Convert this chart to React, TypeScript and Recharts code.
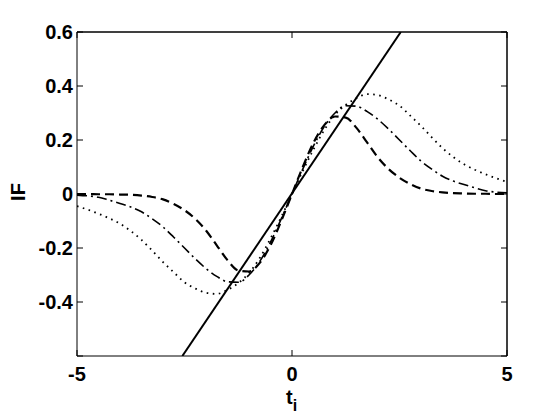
import { LineChart, Line, XAxis, YAxis, Label, ReferenceLine } from "recharts"

const tValues = [
  -5, -4.75, -4.5, -4.25, -4, -3.75, -3.5, -3.25, -3, -2.75, -2.5, -2.25, -2, -1.75, -1.5, -1.25, -1, -0.75, -0.5, -0.25,
  0, 0.25, 0.5, 0.75, 1, 1.25, 1.5, 1.75, 2, 2.25, 2.5, 2.75, 3, 3.25, 3.5, 3.75, 4, 4.25, 4.5, 4.75, 5,
]

// dashed curve (narrowest)
const dashedIF = [
  0, 0, -0.001, -0.001, -0.002, -0.003, -0.006, -0.011, -0.02, -0.037, -0.06, -0.092, -0.135, -0.19, -0.245, -0.283, -0.287, -0.255, -0.19, -0.1,
  0, 0.1, 0.19, 0.255, 0.287, 0.283, 0.245, 0.19, 0.135, 0.092, 0.06, 0.037, 0.02, 0.011, 0.006, 0.003, 0.002, 0.001, 0.001, 0, 0,
]

// dash-dot curve
const dashDotIF = [
  -0.004, -0.007, -0.012, -0.023, -0.035, -0.048, -0.066, -0.092, -0.122, -0.16, -0.2, -0.24, -0.276, -0.305, -0.325, -0.327, -0.3, -0.25, -0.178, -0.092,
  0, 0.092, 0.178, 0.25, 0.3, 0.327, 0.325, 0.305, 0.276, 0.24, 0.2, 0.16, 0.122, 0.092, 0.066, 0.048, 0.035, 0.023, 0.012, 0.007, 0.004,
]

// dotted curve (widest)
const dottedIF = [
  -0.045, -0.058, -0.073, -0.09, -0.11, -0.137, -0.17, -0.21, -0.252, -0.29, -0.327, -0.35, -0.366, -0.37, -0.355, -0.33, -0.293, -0.237, -0.165, -0.085,
  0, 0.085, 0.165, 0.237, 0.293, 0.33, 0.355, 0.37, 0.366, 0.35, 0.327, 0.29, 0.252, 0.21, 0.17, 0.137, 0.11, 0.09, 0.073, 0.058, 0.045,
]

// solid straight line, ends where it leaves the box
const solidT = [-2.55, 2.53]
const solidIF = [-0.6, 0.6]

const xTicks = [-5, 0, 5]
const yTicks = [-0.6, -0.4, -0.2, 0, 0.2, 0.4, 0.6]

const table = tValues.map((t, i) => ({
  t,
  dashed: dashedIF[i],
  dashDot: dashDotIF[i],
  dotted: dottedIF[i],
}))
const solidData = solidT.map((t, i) => ({ t, solid: solidIF[i] }))

const font = { fontFamily: "'Liberation Sans', Arial, sans-serif", fontWeight: "bold" as const, fontSize: 20 }

const BottomTick = (props: any) => {
  const { x, y, payload } = props
  return (
    <g>
      <line x1={x} y1={y} x2={x} y2={y - 6} stroke="#000" />
      <text x={x} y={y + 25} textAnchor="middle" fill="#000" {...font}>
        {payload.value}
      </text>
    </g>
  )
}

const TopTick = (props: any) => {
  const { x, y } = props
  return <line x1={x} y1={y} x2={x} y2={y + 6} stroke="#000" />
}

const LeftTick = (props: any) => {
  const { x, y, payload } = props
  const v = payload.value
  return (
    <g>
      <line x1={x} y1={y} x2={x + 6} y2={y} stroke="#000" />
      {v !== -0.6 && (
        <text x={x - 4} y={y + 7} textAnchor="end" fill="#000" {...font}>
          {v}
        </text>
      )}
    </g>
  )
}

const RightTick = (props: any) => {
  const { x, y } = props
  return <line x1={x} y1={y} x2={x - 6} y2={y} stroke="#000" />
}

export default function App() {
  return (
    <div style={{ position: "absolute", left: 0, top: 0, width: 560, height: 420, background: "#fff" }}>
      <LineChart width={560} height={420} data={table} margin={{ top: 31, right: 52, left: 0, bottom: 0 }}>
        <XAxis
          dataKey="t"
          type="number"
          domain={[-5, 5]}
          ticks={xTicks}
          allowDataOverflow
          height={64}
          stroke="#000"
          tickLine={false}
          tickSize={0}
          tickMargin={0}
          tick={<BottomTick />}
        >
          <Label
            content={() => (
              <text x={286} y={404} fill="#000" {...font}>
                t
                <tspan fontSize={16} dy={7}>
                  i
                </tspan>
              </text>
            )}
          />
        </XAxis>
        <XAxis
          xAxisId="top"
          orientation="top"
          dataKey="t"
          type="number"
          domain={[-5, 5]}
          ticks={xTicks}
          allowDataOverflow
          height={1}
          stroke="#000"
          tickLine={false}
          tickSize={0}
          tickMargin={0}
          tick={<TopTick />}
        />
        <YAxis
          type="number"
          domain={[-0.6, 0.6]}
          ticks={yTicks}
          allowDataOverflow
          width={77}
          stroke="#000"
          tickLine={false}
          tickSize={0}
          tickMargin={0}
          tick={<LeftTick />}
        >
          <Label
            content={() => (
              <text x={25} y={192} fill="#000" textAnchor="middle" transform="rotate(-90 25 192)" {...font}>
                IF
              </text>
            )}
          />
        </YAxis>
        <YAxis
          yAxisId="right"
          orientation="right"
          type="number"
          domain={[-0.6, 0.6]}
          ticks={yTicks}
          allowDataOverflow
          width={1}
          stroke="#000"
          tickLine={false}
          tickSize={0}
          tickMargin={0}
          tick={<RightTick />}
        />
        <ReferenceLine y={0.6} stroke="#000" strokeWidth={1} ifOverflow="extendDomain" />
        <ReferenceLine x={5} stroke="#000" strokeWidth={1} ifOverflow="extendDomain" />
        <Line
          data={solidData}
          dataKey="solid"
          type="linear"
          stroke="#000"
          strokeWidth={2}
          dot={false}
          isAnimationActive={false}
        />
        <Line
          dataKey="dashed"
          type="monotone"
          stroke="#000"
          strokeWidth={2.2}
          strokeDasharray="9 5"
          dot={false}
          isAnimationActive={false}
        />
        <Line
          dataKey="dashDot"
          type="monotone"
          stroke="#000"
          strokeWidth={1.6}
          strokeDasharray="10 4 2 4"
          dot={false}
          isAnimationActive={false}
        />
        <Line
          dataKey="dotted"
          type="monotone"
          stroke="#000"
          strokeWidth={1.8}
          strokeDasharray="1.6 4.5"
          dot={false}
          isAnimationActive={false}
        />
      </LineChart>
    </div>
  )
}
